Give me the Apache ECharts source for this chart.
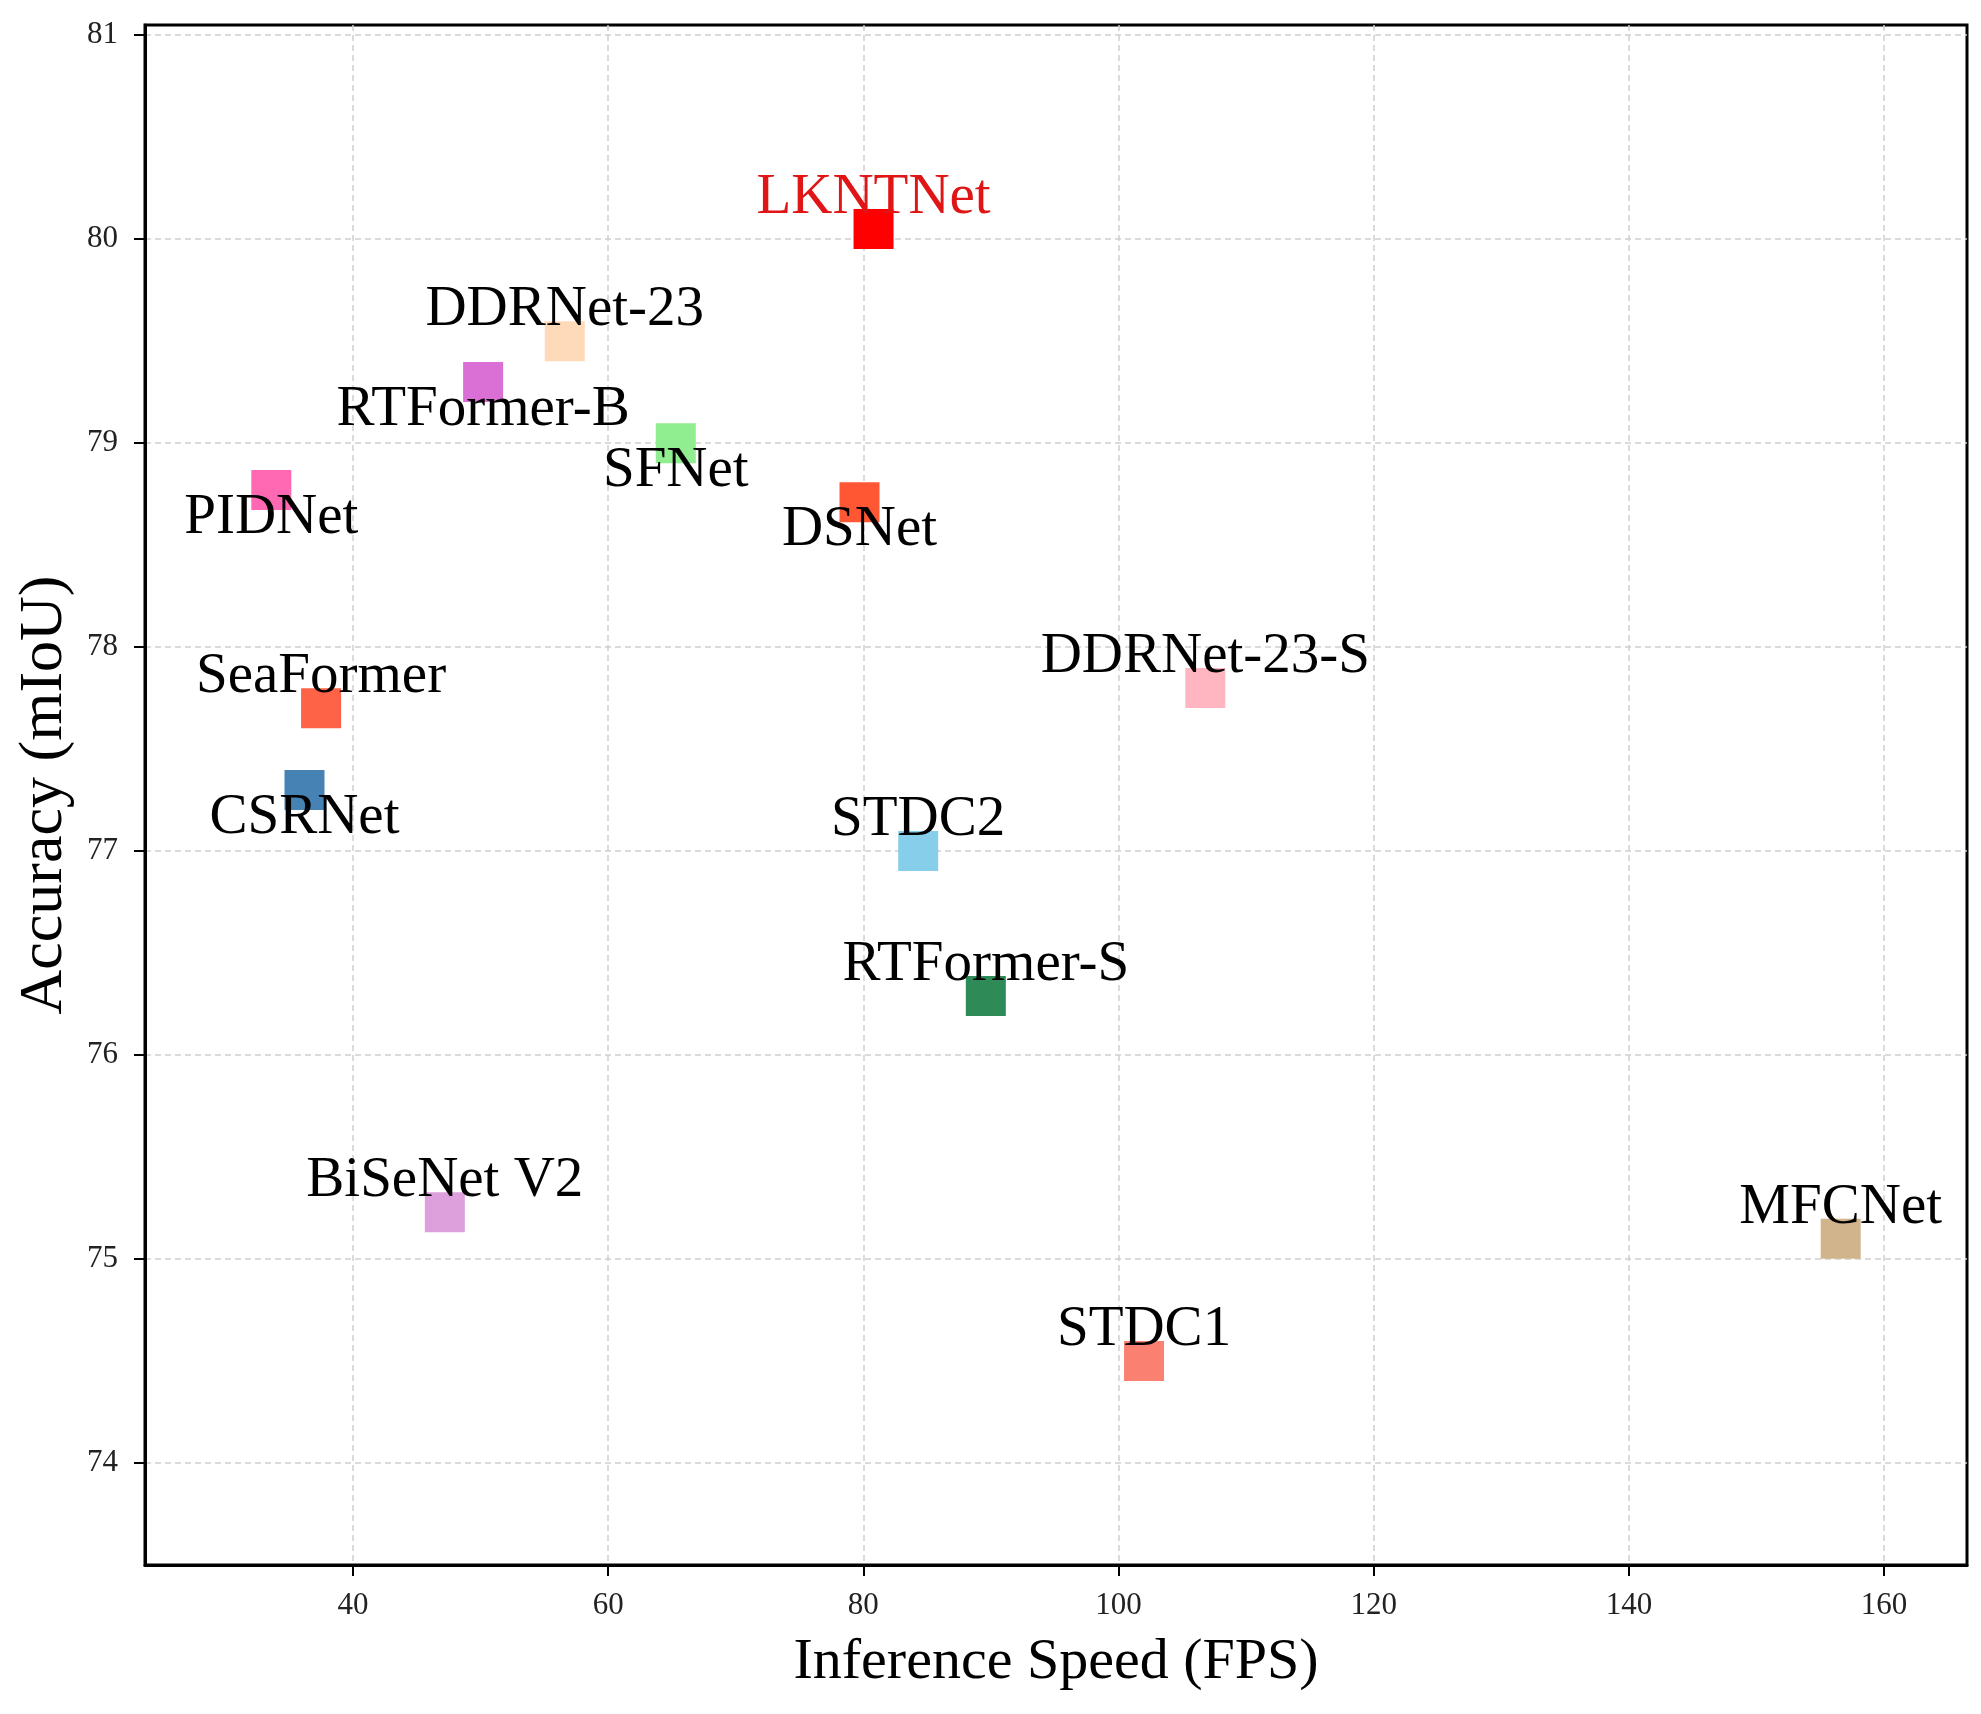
<!DOCTYPE html>
<html>
<head>
<meta charset="utf-8">
<script src="https://cdn.jsdelivr.net/npm/echarts@6/dist/echarts.min.js"></script>
<style>
    html, body { margin: 0; padding: 0; background: #fff; }
    #chart { width: 1981px; height: 1714px; }
</style>
</head>
<body>
<div id="chart"></div>
<script>
    // 数据
    var models = ['LKNTNet', 'DDRNet-23', 'RTFormer-B', 'SFNet', 'PIDNet', 'DSNet', 'DDRNet-23-S',
                  'SeaFormer', 'CSRNet', 'STDC2', 'RTFormer-S', 'BiSeNet V2', 'MFCNet', 'STDC1'];
    var fps  = [80.8, 56.6, 50.2, 65.3, 33.6, 79.7, 106.8, 37.5, 36.2, 84.3, 89.6, 47.2, 156.6, 102.0];
    var miou = [80.05, 79.5, 79.3, 79.0, 78.77, 78.71, 77.8, 77.7, 77.3, 77.0, 76.29, 75.23, 75.1, 74.5];
    var xTicks = [40, 60, 80, 100, 120, 140, 160];
    var yTicks = [74, 75, 76, 77, 78, 79, 80, 81];

    // 样式
    var colors = ['#ff0000', '#ffdab9', '#da70d6', '#90ee90', '#ff69b4', '#ff5733', '#ffb6c1',
                  '#ff6347', '#4682b4', '#87ceeb', '#2e8b57', '#dda0dd', '#d2b48c', '#fa8072'];
    var labelBelow = ['RTFormer-B', 'SFNet', 'PIDNet', 'DSNet', 'CSRNet'];
    var serif = '"Liberation Serif", "Times New Roman", serif';

    var points = models.map(function(name, i){
        var below = labelBelow.indexOf(name) >= 0;
        return {
            name: name,
            value: [fps[i], miou[i]],
            itemStyle: { color: colors[i], opacity: 1 },
            label: {
                show: true,
                position: 'inside',
                offset: [0, below ? 28 : -31],
                formatter: name,
                color: name === 'LKNTNet' ? '#e01515' : '#000',
                fontFamily: serif,
                fontSize: 57
            }
        };
    });

    var gridLine = {
        show: true,
        lineStyle: { color: '#cfcfcf', width: 1.5, type: [6, 4] }
    };

    var myChart = echarts.init(document.getElementById('chart'));
    myChart.setOption({
        animation: false,
        grid: {
            left: 145, top: 25, width: 1822, height: 1540,
            show: true, borderColor: '#000', borderWidth: 3, backgroundColor: 'transparent'
        },
        xAxis: {
            type: 'value',
            min: 23.7,
            max: 166.5,
            name: 'Inference Speed (FPS)',
            nameLocation: 'middle',
            nameGap: 69,
            nameTextStyle: { fontFamily: serif, fontSize: 58, color: '#000' },
            axisLine: { show: true, lineStyle: { color: '#000', width: 3 } },
            axisTick: { show: true, length: 11, customValues: xTicks, lineStyle: { color: '#000', width: 2 } },
            axisLabel: { customValues: xTicks, margin: 25, fontFamily: serif, fontSize: 31, color: '#222' },
            splitLine: gridLine
        },
        yAxis: {
            type: 'value',
            min: 73.5,
            max: 81.05,
            name: 'Accuracy (mIoU)',
            nameLocation: 'middle',
            nameGap: 63,
            nameTextStyle: { fontFamily: serif, fontSize: 62, color: '#000' },
            axisLine: { show: true, lineStyle: { color: '#000', width: 3 } },
            axisTick: { show: true, length: 11, customValues: yTicks, lineStyle: { color: '#000', width: 2 } },
            axisLabel: { customValues: yTicks, margin: 27, fontFamily: serif, fontSize: 31, color: '#222' },
            splitLine: gridLine
        },
        series: [{
            type: 'scatter',
            symbol: 'rect',
            symbolSize: 40,
            data: points
        }]
    });
</script>
</body>
</html>
